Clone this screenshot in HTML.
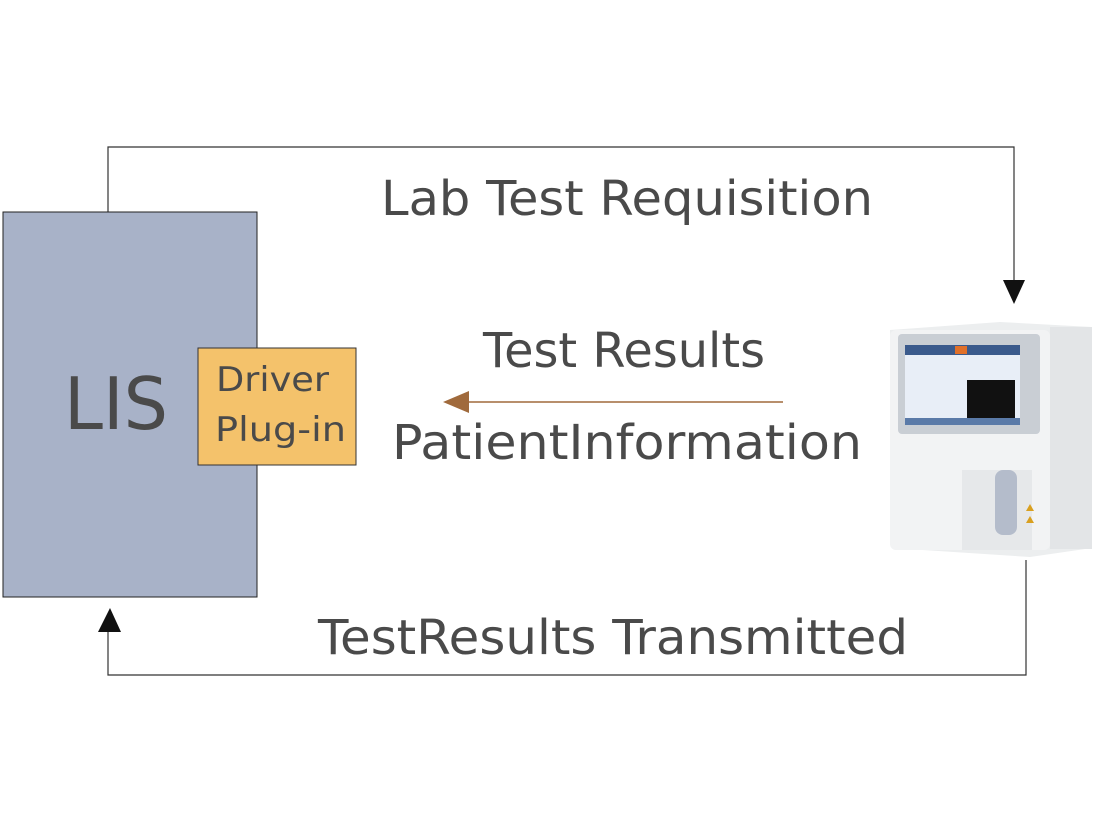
<!DOCTYPE html>
<html><head><style>
html,body{margin:0;padding:0;background:#fff;}
svg{display:block;font-family:"DejaVu Sans","Liberation Sans",sans-serif;}
</style></head><body>
<svg width="1104" height="826" viewBox="0 0 1104 826" xmlns="http://www.w3.org/2000/svg">
<rect width="1104" height="826" fill="#fff"/>
<polyline points="108,212 108,147 1014,147 1014,282" fill="none" stroke="#333" stroke-width="1.2"/>
<polygon points="1003,280 1025,280 1014,304" fill="#111"/>
<polyline points="1026,560 1026,675 108,675 108,630" fill="none" stroke="#333" stroke-width="1.2"/>
<polygon points="98,632 121,632 110,608" fill="#111"/>
<rect x="3" y="212" width="254" height="385" fill="#a8b2c8" stroke="#222" stroke-width="1"/>
<text x="64" y="429" font-size="72" fill="#4a4a4a" textLength="104" lengthAdjust="spacingAndGlyphs">LIS</text>
<rect x="198" y="348" width="158" height="117" fill="#f4c26b" stroke="#333" stroke-width="1"/>
<text x="216" y="391" font-size="34" fill="#4a4a4a" textLength="113" lengthAdjust="spacingAndGlyphs">Driver</text>
<text x="215" y="441" font-size="34" fill="#4a4a4a" textLength="131" lengthAdjust="spacingAndGlyphs">Plug-in</text>
<text x="381" y="215" font-size="48" fill="#4a4a4a" textLength="492" lengthAdjust="spacingAndGlyphs">Lab Test Requisition</text>
<text x="483" y="367" font-size="48" fill="#4a4a4a" textLength="282" lengthAdjust="spacingAndGlyphs">Test Results</text>
<text x="392" y="459" font-size="48" fill="#4a4a4a" textLength="470" lengthAdjust="spacingAndGlyphs">PatientInformation</text>
<text x="318" y="654" font-size="48" fill="#4a4a4a" textLength="590" lengthAdjust="spacingAndGlyphs">TestResults Transmitted</text>
<line x1="783" y1="402" x2="465" y2="402" stroke="#a06a3c" stroke-width="1.5"/>
<polygon points="443,402 469,391 469,413" fill="#a06a3c"/>
<polygon points="890,330 1000,322 1092,327 1092,548 1030,557 892,548" fill="#eceeef"/>
<rect x="890" y="330" width="160" height="220" rx="6" fill="#f2f3f4"/>
<rect x="1050" y="327" width="42" height="222" fill="#e3e5e7"/>
<rect x="898" y="334" width="142" height="100" rx="4" fill="#c9ced4"/>
<rect x="905" y="345" width="115" height="80" fill="#e8eef7"/>
<rect x="905" y="345" width="115" height="10" fill="#3a5a8c"/>
<rect x="955" y="346" width="12" height="8" fill="#e0702a"/>
<rect x="967" y="380" width="48" height="40" fill="#111"/>
<rect x="905" y="418" width="115" height="7" fill="#5a7aa8"/>
<rect x="962" y="470" width="70" height="80" fill="#e6e8ea"/>
<rect x="995" y="470" width="22" height="65" rx="8" fill="#b4bccb"/>
<polygon points="1030,504 1034,511 1026,511" fill="#d9a020"/>
<polygon points="1030,516 1034,523 1026,523" fill="#d9a020"/>
</svg>
</body></html>
